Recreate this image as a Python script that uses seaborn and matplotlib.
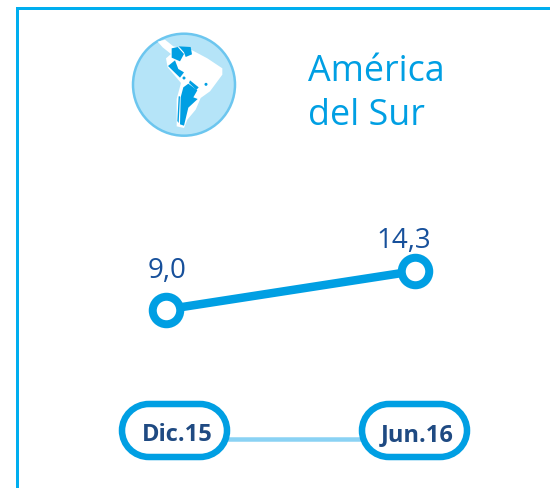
import matplotlib
matplotlib.use("Agg")
import matplotlib.pyplot as plt
from matplotlib.patches import Circle, PathPatch, Polygon
from matplotlib.path import Path
import pandas as pd
import seaborn as sns

periods = ["Dic.15", "Jun.16"]
values = [9.0, 14.3]
value_labels = ["9,0", "14,3"]
title_lines = ["América", "del Sur"]

BLUE = "#009fe3"
LIGHT = "#8ad2f4"
DARK = "#17509b"
NAVY = "#1f4a82"
W, H = 550, 489
px = 0.72  # points per pixel at dpi 100

sns.set_theme(style="white")
plt.rcParams["font.family"] = ["Open Sans", "DejaVu Sans"]

fig = plt.figure(figsize=(W / 100, H / 100), dpi=100, facecolor="white")

# Pixel-space layer for frame, icon and pills
bg = fig.add_axes([0, 0, 1, 1], zorder=0)
bg.set_xlim(0, W)
bg.set_ylim(H, 0)
bg.axis("off")
bg.plot([17, 17, W], [H, 9.3, 9.3], color="#00aeef", lw=3 * px,
        solid_joinstyle="miter")

# Icon
def z(pts):
    return [(120 + a / 3, 20 + b / 3) for a, b in pts]

bg.add_patch(Circle((184, 85.7), 51, fc="#b5e4f8", ec="#6cc6ef", lw=2.5 * px))
continent = [(113, 68), (135, 62), (160, 82), (215, 93), (262, 118), (307, 148),
             (307, 167), (270, 217), (242, 237), (227, 272), (202, 302), (192, 327),
             (170, 322), (170, 240), (183, 192), (143, 145), (138, 118), (153, 105),
             (128, 85)]
bg.add_patch(Polygon(z(continent), fc="white", ec="none"))
shapes = [
    [(155, 88), (173, 84), (192, 105), (180, 127), (155, 116)],
    [(176, 82), (212, 84), (216, 106), (197, 114), (192, 100)],
    [(144, 141), (165, 124), (175, 150), (192, 160), (180, 176)],
    [(190, 205), (205, 194), (232, 214), (220, 235), (233, 240), (205, 266),
     (192, 320), (180, 316), (182, 235)],
    [(210, 184), (236, 205), (229, 213), (207, 192)],
    [(176, 232), (180, 232), (176, 312), (172, 306)],
]
for s in shapes:
    bg.add_patch(Polygon(z(s), fc=BLUE, ec="none"))
for c in [(192, 177), (258, 196)]:
    bg.add_patch(Circle(z([c])[0], 1.5, fc=BLUE, ec="none"))

# Title
for line, y in zip(title_lines, [72, 116]):
    bg.text(308, y, line, color=BLUE, fontsize=25.8, ha="left", va="center")

# Data layer: anchored so that the series maps to its pixel positions
ax = fig.add_axes([166 / W, 1 - 310.5 / H, 249 / W, 38.5 / H], zorder=2)
ax.patch.set_alpha(0)
df = pd.DataFrame({"periodo": [0, 1], "valor": values})
sns.lineplot(data=df, x="periodo", y="valor", ax=ax, color=BLUE, lw=8.5 * px,
             marker="o", markersize=27.5 * px, markeredgecolor=BLUE,
             markeredgewidth=8 * px, markerfacecolor="white", clip_on=False,
             errorbar=None)
ax.set_xlim(0, 1)
ax.set_ylim(min(values), max(values))
ax.axis("off")

ax.annotate(value_labels[0], (0, values[0]), xytext=(1, 39 * px), textcoords="offset points",
            ha="center", va="center", color=DARK, fontsize=20)
ax.annotate(value_labels[1], (1, values[1]), xytext=(-8, 31 * px), textcoords="offset points",
            ha="center", va="center", color=DARK, fontsize=20)


def pill(cx, cy, hw, hh, rx):
    k = 0.5523
    x0, x1 = cx - hw, cx + hw
    y0, y1 = cy - hh, cy + hh
    verts = [
        (x0 + rx, y0), (x1 - rx, y0),
        (x1 - rx + k * rx, y0), (x1, cy - k * hh), (x1, cy),
        (x1, cy + k * hh), (x1 - rx + k * rx, y1), (x1 - rx, y1),
        (x0 + rx, y1),
        (x0 + rx - k * rx, y1), (x0, cy + k * hh), (x0, cy),
        (x0, cy - k * hh), (x0 + rx - k * rx, y0), (x0 + rx, y0),
        (x0 + rx, y0),
    ]
    codes = [Path.MOVETO, Path.LINETO] + [Path.CURVE4] * 6 + [Path.LINETO] + [Path.CURVE4] * 6 + [Path.CLOSEPOLY]
    return Path(verts, codes)


# Period axis drawn as pills
bg.plot([225, 365], [440, 440], color=LIGHT, lw=4.5 * px, solid_capstyle="butt", zorder=1)
for i, label in enumerate(periods):
    cx = 174.5 + 240 * i
    bg.add_patch(PathPatch(pill(cx, 431.5, 52.5, 26.5, 27),
                           fc="white", ec=BLUE, lw=6.5 * px, zorder=2))
    bg.text(cx + 2.5, 435, label, color=NAVY, fontsize=17, fontweight="bold",
            ha="center", va="center", zorder=3)

fig.savefig("out.png", dpi=100, facecolor="white")
